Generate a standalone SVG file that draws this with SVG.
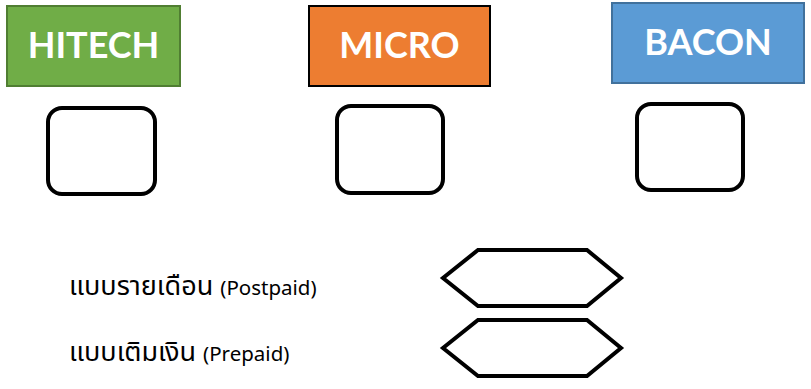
<svg xmlns="http://www.w3.org/2000/svg" width="811" height="389" viewBox="0 0 811 389">
<style>
.lbl{font-family:Lato,"Open Sans","Liberation Sans",sans-serif;font-weight:bold;font-size:36px;fill:#fff;text-anchor:middle}
.box{fill:#fff;stroke:#000;stroke-width:4}
.th{font-family:"Noto Sans Thai","Noto Sans","DejaVu Sans",sans-serif;font-size:27px;fill:#000}
.en{font-size:20.5px}
</style>
<rect width="811" height="389" fill="#fff"/>
<g id="hitech"><rect x="7" y="6" width="173" height="80" fill="#70ad47" stroke="#507e32" stroke-width="2"/><text class="lbl" x="93.5" y="58">HITECH</text></g>
<g id="micro"><rect x="309" y="6" width="181" height="80" fill="#ed7d31" stroke="#000" stroke-width="2"/><text class="lbl" x="399.5" y="58">MICRO</text></g>
<g id="bacon"><rect x="612" y="3" width="192" height="80" fill="#5b9bd5" stroke="#41719c" stroke-width="2"/><text class="lbl" x="708" y="55">BACON</text></g>
<g id="box1"><rect class="box" x="48" y="108" width="107" height="86" rx="14"/></g>
<g id="box2"><rect class="box" x="337" y="106" width="106" height="87" rx="14"/></g>
<g id="box3"><rect class="box" x="637" y="104" width="106" height="86" rx="14"/></g>
<g id="postpaid-label"><text class="th" x="69" y="295">แบบรายเดือน <tspan class="en">(Postpaid)</tspan></text></g>
<g id="prepaid-label"><text class="th" x="69" y="361">แบบเติมเงิน <tspan class="en">(Prepaid)</tspan></text></g>
<g id="hex1"><polygon class="box" points="478,250 587,250 621,278 587,306 478,306 443,278"/></g>
<g id="hex2"><polygon class="box" points="478,320 587,320 621,348 587,376 478,376 443,348"/></g>
<g id="connectors"></g>
</svg>
